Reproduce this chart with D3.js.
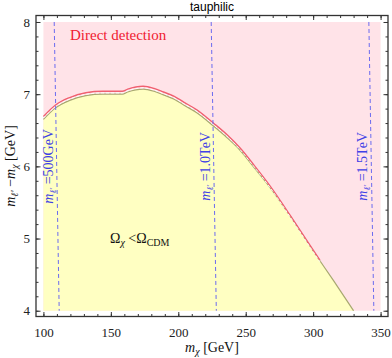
<!DOCTYPE html>
<html lang="en">
<head>
  <meta charset="UTF-8">
  <title>tauphilic</title>
  <style>
    body { margin: 0; background: #fff; }
    svg text { font-family: "Liberation Serif", "DejaVu Serif", serif; }
    .axis path { display: none; }
    .axis line { stroke: #333; }
    .axis text { font-size: 13px; fill: #222; }
  </style>
</head>
<body>
  <svg id="chart" width="392" height="358"></svg>
  <script src="https://d3js.org/d3.v7.min.js"></script>
  <script>
    // relic density boundary (edge of the yellow region)
    const relicX = [100, 109, 119, 131.5, 144, 158.5, 162.5, 168.5, 174, 182, 189, 197, 204, 214, 226, 236, 246, 256, 268, 283, 300, 315, 330];
    const relicY = [6.65, 6.81, 6.91, 6.98, 7.00, 7.00, 7.03, 7.06, 7.07, 7.04, 6.99, 6.93, 6.85, 6.74, 6.56, 6.40, 6.22, 5.99, 5.71, 5.31, 4.83, 4.42, 4.00];

    // direct detection limit (red line)
    const ddX = [100, 109, 119, 131.5, 144, 158.5, 162.5, 168.5, 174, 182, 189, 197, 204, 214, 226, 236, 246, 256, 268, 283, 295, 305];
    const ddY = [6.69, 6.85, 6.95, 7.02, 7.04, 7.04, 7.07, 7.10, 7.11, 7.08, 7.03, 6.97, 6.89, 6.78, 6.60, 6.44, 6.25, 6.02, 5.73, 5.32, 4.98, 4.70];

    // heavy lepton mass contours (blue dashed)
    const massNames = ["500GeV", "1.0TeV", "1.5TeV"];
    const massTopX = [108, 224.4, 341.3];
    const massBottomX = [111.7, 228.2, 345.0];

    const xTicks = [100, 150, 200, 250, 300, 350];
    const yTicks = [4, 5, 6, 7, 8];

    const mLeft = 36, mRight = 388, mTop = 15.5, mBottom = 316.5;

    const x = d3.scaleLinear().domain([94.5, 355.5]).range([mLeft, mRight]);
    const y = d3.scaleLinear().domain([3.92, 8.09]).range([mBottom, mTop]);

    const svg = d3.select("#chart");

    // pink background = excluded by direct detection
    svg.append("rect")
      .attr("x", x(100)).attr("y", y(8))
      .attr("width", x(350) - x(100)).attr("height", y(4) - y(8))
      .attr("fill", "#ffe3e8");

    const relic = relicX.map((d, i) => [d, relicY[i]]);
    const dd = ddX.map((d, i) => [d, ddY[i]]);

    const area = d3.area()
      .x(d => x(d[0]))
      .y0(y(4))
      .y1(d => y(d[1]))
      .curve(d3.curveMonotoneX);

    svg.append("path")
      .datum(relic)
      .attr("d", area)
      .attr("fill", "#ffffc2");

    const line = d3.line()
      .x(d => x(d[0]))
      .y(d => y(d[1]))
      .curve(d3.curveMonotoneX);

    svg.append("path")
      .datum(relic)
      .attr("d", line)
      .attr("fill", "none")
      .attr("stroke", "#a8a870")
      .attr("stroke-width", 1.2);

    svg.append("path")
      .datum(dd)
      .attr("d", line)
      .attr("fill", "none")
      .attr("stroke", "#f06070")
      .attr("stroke-width", 1.4);

    svg.append("path")
      .datum(dd)
      .attr("d", line)
      .attr("transform", "translate(0,1.6)")
      .attr("fill", "none")
      .attr("stroke", "#fff")
      .attr("stroke-width", 0.9)
      .attr("stroke-dasharray", "3,2");

    // mass contours
    massNames.forEach((name, i) => {
      svg.append("line")
        .attr("x1", x(massTopX[i])).attr("y1", y(8))
        .attr("x2", x(massBottomX[i])).attr("y2", y(4))
        .attr("stroke", "#6b6bf0")
        .attr("stroke-width", 1)
        .attr("stroke-dasharray", "4,3");

      const lx = x((massTopX[i] + massBottomX[i]) / 2) - 4;
      const t = svg.append("text")
        .attr("transform", `translate(${lx},${y(6)}) rotate(-90)`)
        .attr("text-anchor", "middle")
        .attr("font-size", 14)
        .attr("fill", "#4040e6");
      t.append("tspan").attr("font-style", "italic").text("m");
      t.append("tspan").attr("font-size", 9).attr("dy", 3).attr("font-style", "italic").text("ℓ′");
      t.append("tspan").attr("dy", -3).text(" =" + name);
    });

    // texts in plot
    svg.append("text")
      .attr("x", 70).attr("y", 40)
      .attr("font-size", 15)
      .attr("fill", "#f02030")
      .text("Direct detection");

    const om = svg.append("text")
      .attr("x", 110).attr("y", 243)
      .attr("font-size", 14)
      .attr("fill", "#111");
    om.append("tspan").text("Ω");
    om.append("tspan").attr("font-size", 10).attr("dy", 3).attr("font-style", "italic").text("χ");
    om.append("tspan").attr("dy", -3).text(" <Ω");
    om.append("tspan").attr("font-size", 10).attr("dy", 3).text("CDM");

    // axes: inward ticks on all four sides
    const xMinor = d3.range(100, 351, 10);
    const yMinor = d3.range(4, 8.01, 0.2);

    svg.append("g").attr("class", "axis")
      .attr("transform", `translate(0,${mBottom})`)
      .call(d3.axisBottom(x).tickValues(xMinor).tickSize(-2.5).tickFormat(""));
    svg.append("g").attr("class", "axis")
      .attr("transform", `translate(0,${mBottom})`)
      .call(d3.axisBottom(x).tickValues(xTicks).tickSize(-4.5).tickPadding(11).tickFormat(d3.format("d")));
    svg.append("g").attr("class", "axis")
      .attr("transform", `translate(0,${mTop})`)
      .call(d3.axisTop(x).tickValues(xMinor).tickSize(-2.5).tickFormat(""));
    svg.append("g").attr("class", "axis")
      .attr("transform", `translate(0,${mTop})`)
      .call(d3.axisTop(x).tickValues(xTicks).tickSize(-4.5).tickFormat(""));

    svg.append("g").attr("class", "axis")
      .attr("transform", `translate(${mLeft},0)`)
      .call(d3.axisLeft(y).tickValues(yMinor).tickSize(-2.5).tickFormat(""));
    svg.append("g").attr("class", "axis")
      .attr("transform", `translate(${mLeft},0)`)
      .call(d3.axisLeft(y).tickValues(yTicks).tickSize(-4.5).tickPadding(6).tickFormat(d3.format("d")));
    svg.append("g").attr("class", "axis")
      .attr("transform", `translate(${mRight},0)`)
      .call(d3.axisRight(y).tickValues(yMinor).tickSize(-2.5).tickFormat(""));
    svg.append("g").attr("class", "axis")
      .attr("transform", `translate(${mRight},0)`)
      .call(d3.axisRight(y).tickValues(yTicks).tickSize(-4.5).tickFormat(""));

    svg.append("rect")
      .attr("x", mLeft).attr("y", mTop)
      .attr("width", mRight - mLeft).attr("height", mBottom - mTop)
      .attr("fill", "none")
      .attr("stroke", "#333")
      .attr("stroke-width", 1.3);

    // titles
    svg.append("text")
      .attr("x", 212).attr("y", 11)
      .attr("text-anchor", "middle")
      .style("font-family", "'Liberation Sans', Arial, sans-serif")
      .attr("font-size", 12)
      .text("tauphilic");

    const xl = svg.append("text")
      .attr("x", 212).attr("y", 352)
      .attr("text-anchor", "middle")
      .attr("font-size", 14)
      .attr("fill", "#111");
    xl.append("tspan").attr("font-style", "italic").text("m");
    xl.append("tspan").attr("font-size", 10).attr("dy", 3).attr("font-style", "italic").text("χ");
    xl.append("tspan").attr("dy", -3).text(" [GeV]");

    const yl = svg.append("text")
      .attr("transform", `translate(15,166) rotate(-90)`)
      .attr("text-anchor", "middle")
      .attr("font-size", 14)
      .attr("fill", "#111");
    yl.append("tspan").attr("font-style", "italic").text("m");
    yl.append("tspan").attr("font-size", 10).attr("dy", 3).attr("font-style", "italic").text("ℓ′");
    yl.append("tspan").attr("dy", -3).text(" −");
    yl.append("tspan").attr("font-style", "italic").text("m");
    yl.append("tspan").attr("font-size", 10).attr("dy", 3).attr("font-style", "italic").text("χ");
    yl.append("tspan").attr("dy", -3).text(" [GeV]");
  </script>
</body>
</html>
